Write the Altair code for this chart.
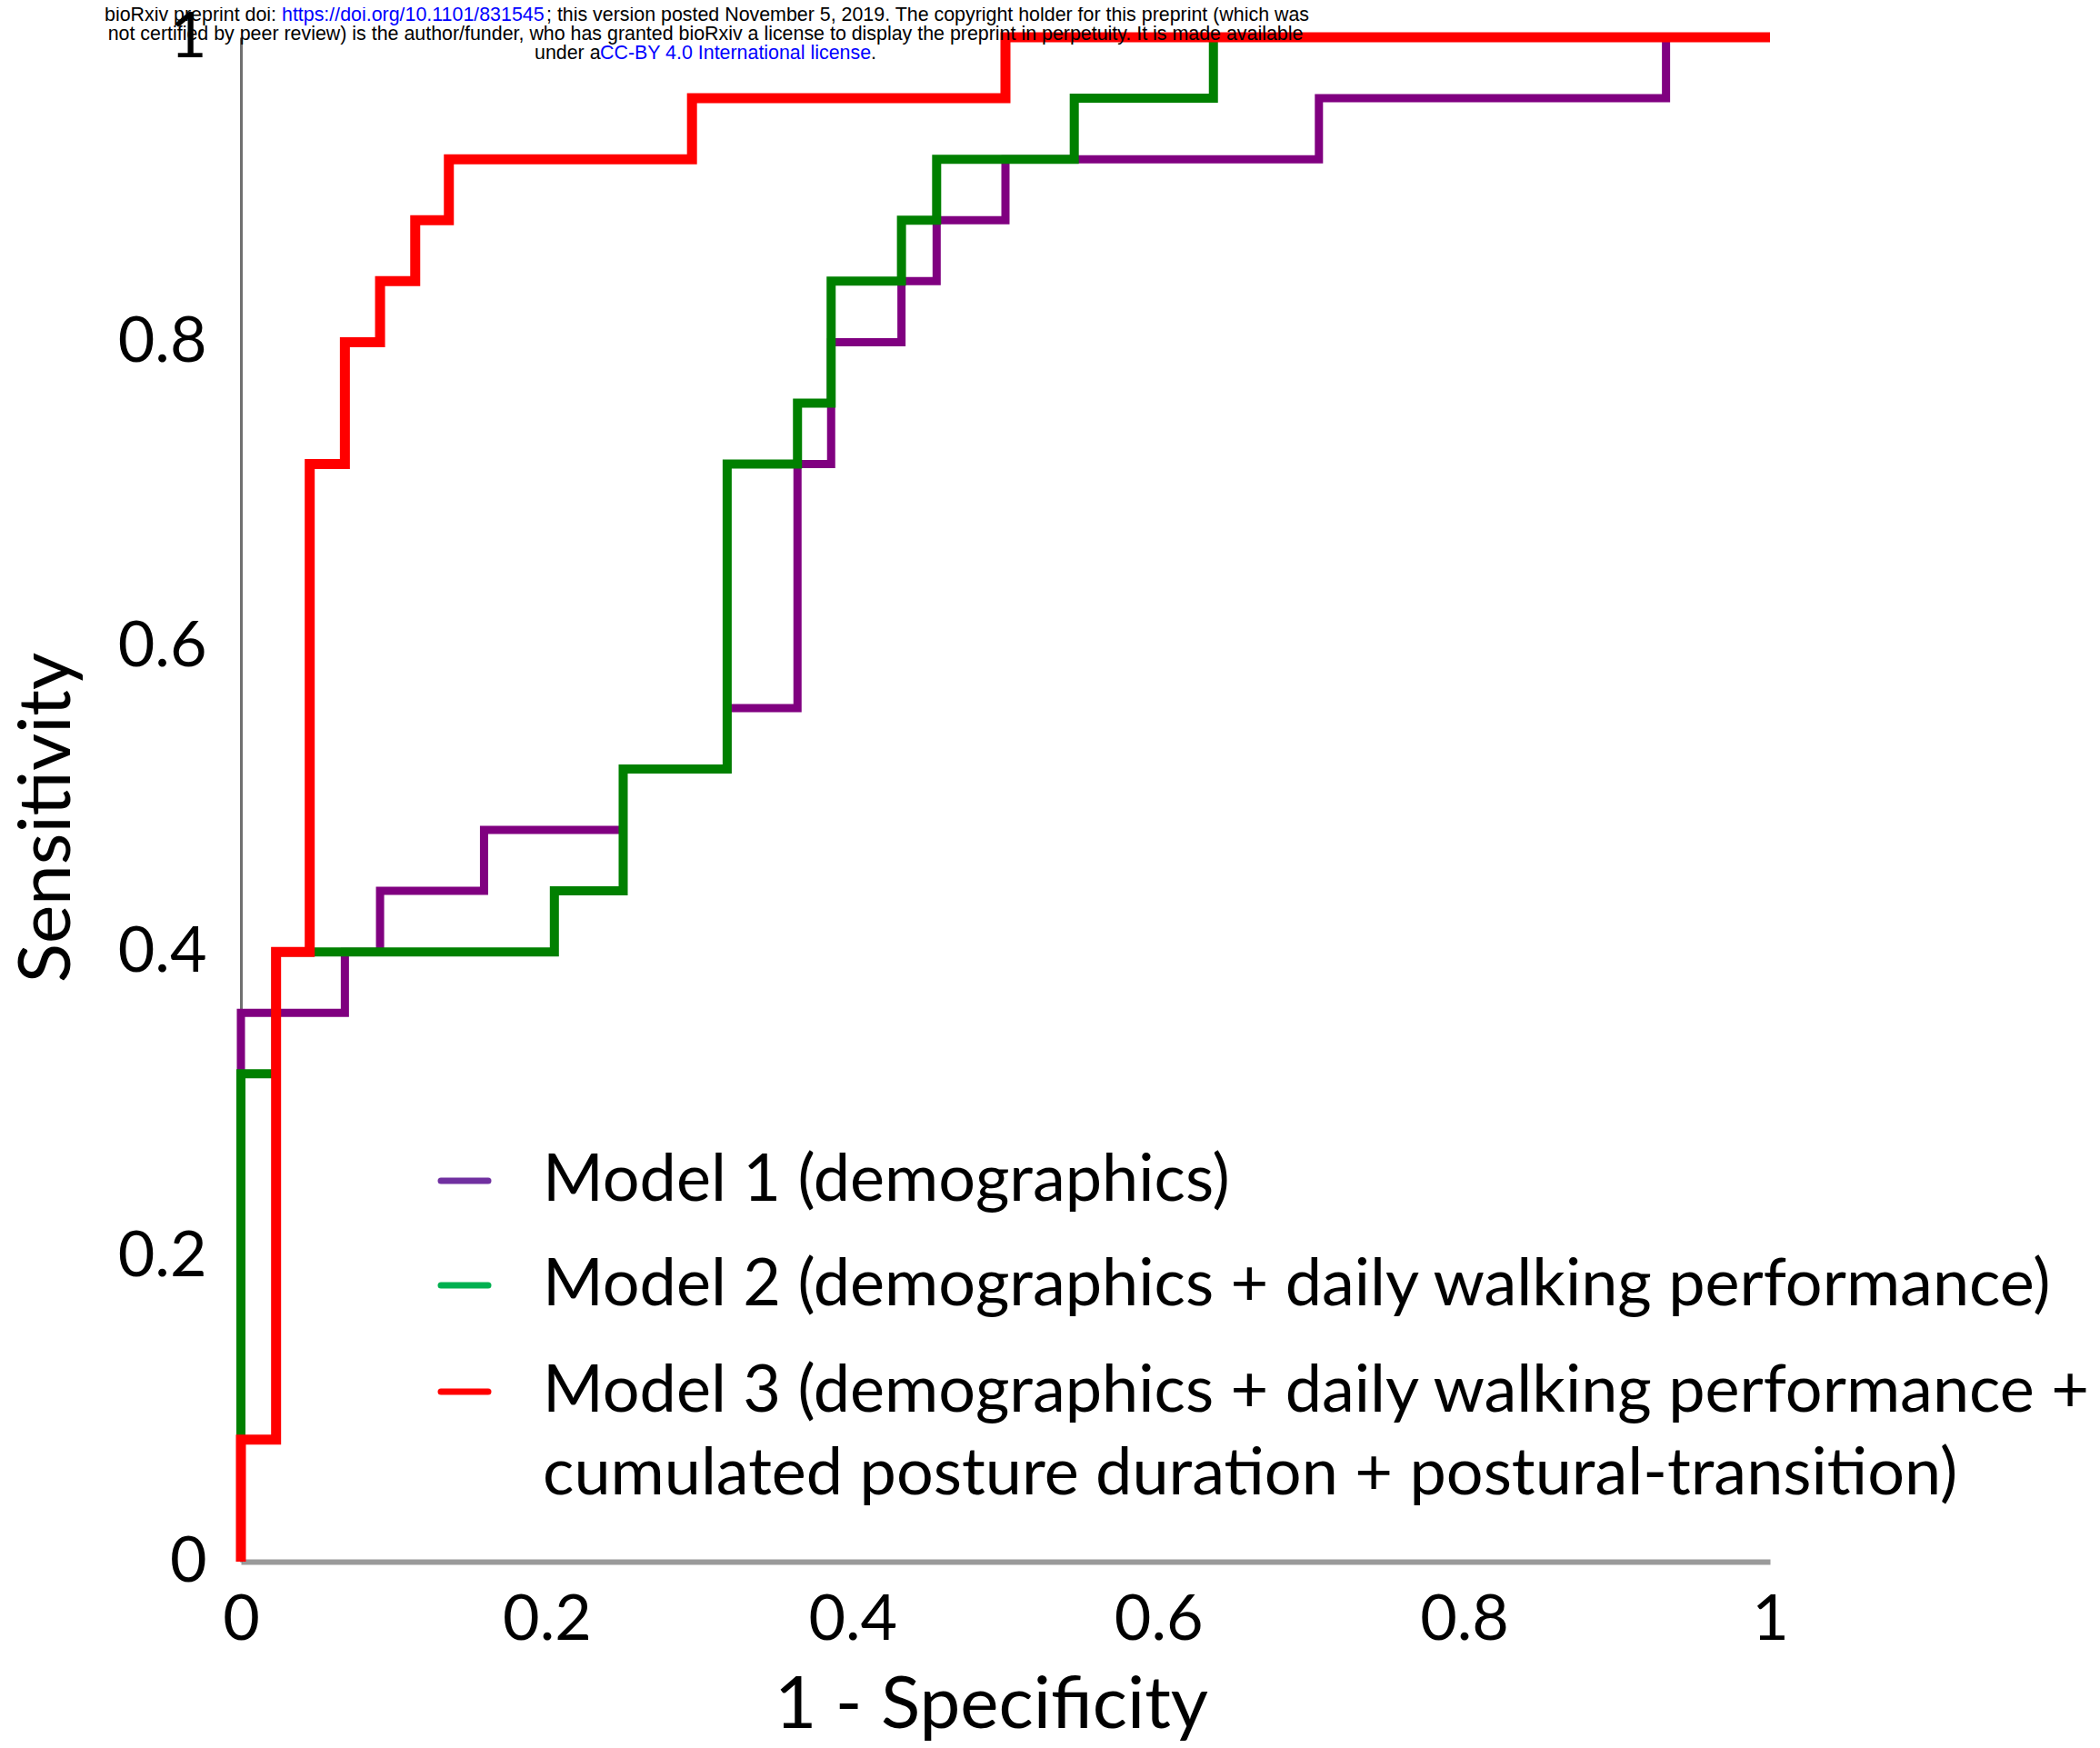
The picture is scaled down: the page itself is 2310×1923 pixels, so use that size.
import altair as alt
import pandas as pd

# ---------------- data ----------------
# Model 1 (demographics) ROC vertices
m1_fpr = [0, 0, 0.068, 0.068, 0.091, 0.091, 0.159, 0.159, 0.25, 0.25, 0.318, 0.318,
          0.364, 0.364, 0.386, 0.386, 0.432, 0.432, 0.455, 0.455, 0.5, 0.5,
          0.705, 0.705, 0.932, 0.932, 1.0]
m1_tpr = [0, 0.36, 0.36, 0.40, 0.40, 0.44, 0.44, 0.48, 0.48, 0.52, 0.52, 0.56,
          0.56, 0.72, 0.72, 0.80, 0.80, 0.84, 0.84, 0.88, 0.88, 0.92,
          0.92, 0.96, 0.96, 1.0, 1.0]

# Model 2 (demographics + daily walking performance)
m2_fpr = [0, 0, 0.023, 0.023, 0.205, 0.205, 0.25, 0.25, 0.318, 0.318, 0.364, 0.364,
          0.386, 0.386, 0.432, 0.432, 0.455, 0.455, 0.545, 0.545, 0.636, 0.636, 1.0]
m2_tpr = [0, 0.32, 0.32, 0.40, 0.40, 0.44, 0.44, 0.52, 0.52, 0.72, 0.72, 0.76,
          0.76, 0.84, 0.84, 0.88, 0.88, 0.92, 0.92, 0.96, 0.96, 1.0, 1.0]

# Model 3 (demographics + daily walking performance + posture + transitions)
m3_fpr = [0, 0, 0.023, 0.023, 0.045, 0.045, 0.068, 0.068, 0.091, 0.091, 0.114, 0.114,
          0.136, 0.136, 0.295, 0.295, 0.5, 0.5, 1.0]
m3_tpr = [0, 0.08, 0.08, 0.40, 0.40, 0.72, 0.72, 0.80, 0.80, 0.84, 0.84, 0.88,
          0.88, 0.92, 0.92, 0.96, 0.96, 1.0, 1.0]

axis_ticks = [0, 0.2, 0.4, 0.6, 0.8, 1.0]

legend_labels = ["Model 1 (demographics)",
                 "Model 2 (demographics + daily walking performance)",
                 "Model 3 (demographics + daily walking performance +",
                 "cumulated posture duration + postural-transition)"]

header_l1 = ["bioRxiv preprint doi: ", "https://doi.org/10.1101/831545",
             "; this version posted November 5, 2019. The copyright holder for this preprint (which was"]
header_l2 = ["not certified by peer review) is the author/funder, who has granted bioRxiv a license to display the preprint in perpetuity. It is made available"]
header_l3 = ["under a", "CC-BY 4.0 International license", "."]

# ---------------- chart ----------------
W, H = 1682, 1677
FONT = "Lato"

xs = alt.Scale(domain=[0, 1], nice=False, zero=False)
ys = alt.Scale(domain=[0, 1], nice=False, zero=False)

x_axis = alt.Axis(values=axis_ticks, format="~g", title="1 - Specificity",
                  grid=False, ticks=False, domainColor="#9a9a9a", domainWidth=6,
                  labelFont=FONT, labelFontSize=70, labelColor="black", labelPadding=30,
                  labelFlush=False, labelOverlap=False,
                  titleFont=FONT, titleFontSize=80, titleFontWeight="normal", titleColor="black",
                  titleX=825, titleY=158, titleBaseline="middle")
y_axis = alt.Axis(values=axis_ticks, format="~g", title="Sensitivity",
                  grid=False, ticks=False, domainColor="#707070", domainWidth=3,
                  labelFont=FONT, labelFontSize=70, labelColor="black", labelPadding=38,
                  labelFlush=False, labelOverlap=False,
                  titleFont=FONT, titleFontSize=80, titleFontWeight="normal", titleColor="black",
                  titleX=-213, titleY=858, titleBaseline="middle", titleAngle=-90)


def roc(fpr, tpr, color, width):
    df = pd.DataFrame({"fpr": fpr, "tpr": tpr, "step": list(range(len(fpr)))})
    return alt.Chart(df).mark_line(color=color, strokeWidth=width, strokeJoin="miter",
                                   strokeCap="butt", clip=False).encode(
        x=alt.X("fpr:Q", scale=xs, axis=x_axis),
        y=alt.Y("tpr:Q", scale=ys, axis=y_axis),
        order="step:Q")


lines = [roc(m1_fpr, m1_tpr, "#800080", 9),
         roc(m2_fpr, m2_tpr, "#008000", 10),
         roc(m3_fpr, m3_tpr, "#ff0000", 11)]

one = pd.DataFrame({"a": [0]})


def txt(s, x, y, size, color="black", font=FONT, align="left", baseline="middle"):
    return alt.Chart(pd.DataFrame({"t": [s]})).mark_text(
        font=font, fontSize=size, color=color, align=align, baseline=baseline).encode(
        text="t:N", x=alt.value(x), y=alt.value(y))


def sym(color, y):
    return alt.Chart(one).mark_rule(color=color, strokeWidth=7, strokeCap="round").encode(
        x=alt.value(220), x2=alt.value(272), y=alt.value(y))


LS = 72
legend = [sym("#7030a0", 1258), sym("#00b050", 1373), sym("#ff0000", 1490),
          txt(legend_labels[0], 332, 1258, LS),
          txt(legend_labels[1], 332, 1373, LS),
          txt(legend_labels[2], 332, 1490, LS),
          txt(legend_labels[3], 332, 1581, LS)]

HF = "Liberation Sans"
HS = 21.4
header = [txt(header_l1[0], -150, -18, HS, font=HF, baseline="alphabetic"),
          txt(header_l1[1], 45, -18, HS, color="#0000ff", font=HF, baseline="alphabetic"),
          txt(header_l1[2], 336, -18, HS, font=HF, baseline="alphabetic"),
          txt(header_l2[0], 511, 3, HS, font=HF, align="center", baseline="alphabetic"),
          txt(header_l3[0], 323, 24, HS, font=HF, baseline="alphabetic"),
          txt(header_l3[1], 395, 24, HS, color="#0000ff", font=HF, baseline="alphabetic"),
          txt(header_l3[2], 693, 24, HS, font=HF, baseline="alphabetic")]

chart = alt.layer(*lines, *legend, *header).properties(
    width=W, height=H,
    autosize=alt.AutoSizeParams(type="none"),
    padding={"left": 257, "top": 33, "right": 350, "bottom": 202},
    background="white",
).configure_view(stroke=None)

chart.save("out.html", embed_options={"renderer": "svg", "actions": False})
